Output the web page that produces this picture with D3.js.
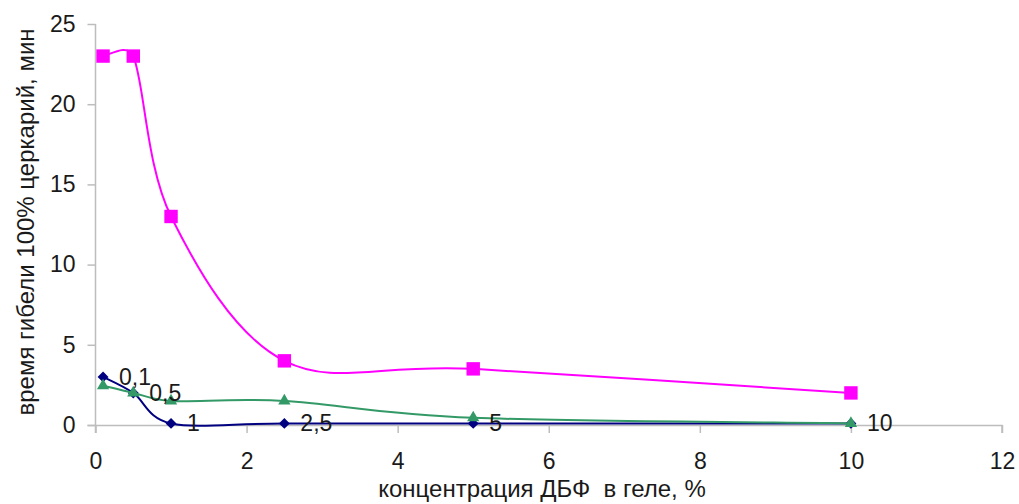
<!DOCTYPE html>
<html><head><meta charset="utf-8">
<script src="https://cdn.jsdelivr.net/npm/d3@7/dist/d3.min.js"></script>
<style>body{margin:0;background:#fff}svg{display:block}text{font-family:"Liberation Sans",Arial,sans-serif;fill:#1a1a1a}</style>
</head><body><svg id="c" width="1019" height="504"></svg>
<script>
const xValues = [0.1, 0.5, 1, 2.5, 5, 10];
const seriesPink = [23, 23, 13, 4, 3.5, 2];
const seriesBlue = [3.0, 2.0, 0.1, 0.1, 0.1, 0.1];
const seriesGreen = [2.45, 2.0, 1.5, 1.5, 0.45, 0.1];
const pointLabels = ["0,1", "0,5", "1", "2,5", "5", "10"];
const xTicks = [0, 2, 4, 6, 8, 10, 12];
const yTicks = [0, 5, 10, 15, 20, 25];
const xTitle = "концентрация ДБФ  в геле, %";
const yTitle = "время гибели 100% церкарий, мин";

const svg = d3.select("#c");
const x = d3.scaleLinear().domain([0, 12]).range([95.5, 1002]);
const y = d3.scaleLinear().domain([0, 25]).range([425, 24]);
const axisColor = "#bdbdbd";
const fs = "23px";

const gx = svg.append("g").attr("transform", `translate(0,${y(0)})`)
  .call(d3.axisBottom(x).tickValues(xTicks).tickSize(8).tickPadding(20).tickFormat(d3.format("d")));
const gy = svg.append("g").attr("transform", `translate(${x(0)},0)`)
  .call(d3.axisLeft(y).tickValues(yTicks).tickSize(8).tickPadding(12).tickFormat(d3.format("d")));
[gx, gy].forEach(g => {
  g.select(".domain").attr("stroke", axisColor).attr("stroke-width", 1.5);
  g.selectAll(".tick line").attr("stroke", axisColor).attr("stroke-width", 1.5);
  g.selectAll(".tick text").style("font-size", fs).attr("fill", "#1a1a1a");
});
gx.select(".domain").attr("d", `M${x(0)-8},0.5H${x(12)}V8`);
gy.select(".domain").attr("d", `M0,${y(25)}V${y(0)+8}`);

svg.append("text").attr("x", 542).attr("y", 497).attr("text-anchor", "middle")
  .style("font-size", "24px").style("white-space", "pre").text(xTitle);
svg.append("text").attr("transform", `translate(34,222) rotate(-90)`).attr("text-anchor", "middle")
  .style("font-size", "24px").text(yTitle);

// Excel-like smoothed line: Bezier segments, tangents (P[i+1]-P[i-1])/6, capped to half the segment length
function smoothPath(pts) {
  const P = pts.map(d => [x(d[0]), y(d[1])]);
  const n = P.length, p = d3.path();
  const cap = (v, m) => { const l = Math.hypot(v[0], v[1]); return l > m ? [v[0]*m/l, v[1]*m/l] : v; };
  p.moveTo(P[0][0], P[0][1]);
  for (let i = 0; i < n - 1; i++) {
    const p0 = P[Math.max(i-1, 0)], p1 = P[i], p2 = P[i+1], p3 = P[Math.min(i+2, n-1)];
    const seg = Math.hypot(p2[0]-p1[0], p2[1]-p1[1]) * 0.5;
    const v1 = cap([(p2[0]-p0[0])/6, (p2[1]-p0[1])/6], seg);
    const v2 = cap([(p3[0]-p1[0])/6, (p3[1]-p1[1])/6], seg);
    p.bezierCurveTo(p1[0]+v1[0], p1[1]+v1[1], p2[0]-v2[0], p2[1]-v2[1], p2[0], p2[1]);
  }
  return p.toString();
}
function drawSeries(vals, color, symbol, size, rot) {
  const pts = xValues.map((v, i) => [v, vals[i]]);
  svg.append("path").attr("d", smoothPath(pts)).attr("fill", "none").attr("stroke", color).attr("stroke-width", 2);
  svg.append("g").selectAll("path").data(pts).join("path")
    .attr("transform", d => `translate(${x(d[0])},${y(d[1])}) rotate(${rot})`)
    .attr("d", d3.symbol().type(symbol).size(size)).attr("fill", color);
  return pts;
}
drawSeries(seriesPink, "#ff00ff", d3.symbolSquare, 180, 0);
const bluePts = drawSeries(seriesBlue, "#000080", d3.symbolSquare, 60, 45);
drawSeries(seriesGreen, "#339966", d3.symbolTriangle, 65, 0);

svg.append("g").selectAll("text").data(bluePts).join("text")
  .attr("x", d => x(d[0]) + 16).attr("y", d => y(d[1]) + 8)
  .style("font-size", fs).text((d, i) => pointLabels[i]);
</script></body></html>
